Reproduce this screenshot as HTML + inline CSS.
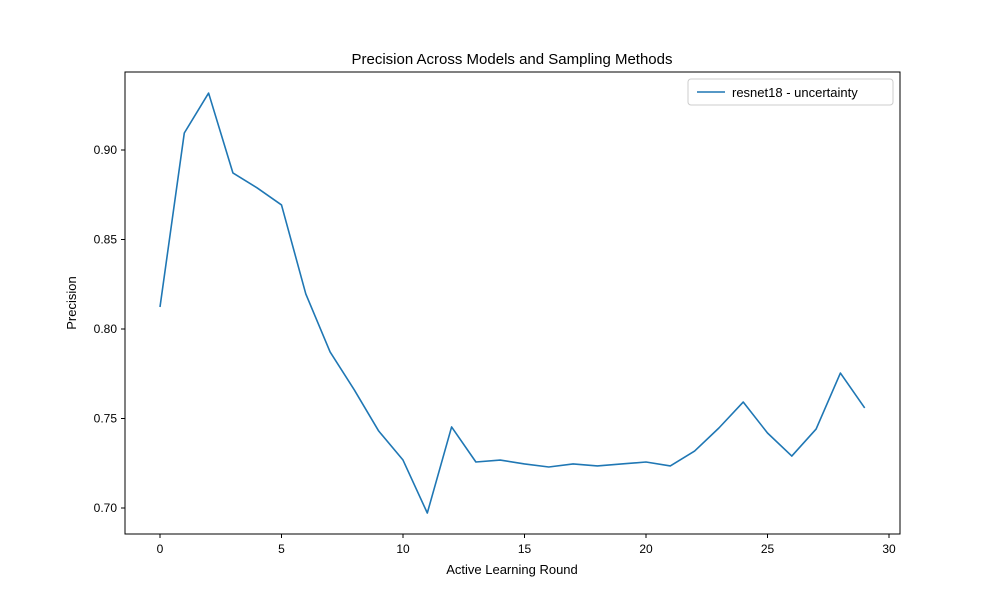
<!DOCTYPE html>
<html><head><meta charset="utf-8"><style>
body{margin:0;background:#fff;}
svg{display:block;font-family:"Liberation Sans","DejaVu Sans",sans-serif;}
</style></head><body>
<svg id="chart" width="1000" height="600">
<rect x="0" y="0" width="1000" height="600" fill="#fff"/>
<text x="512" y="64" text-anchor="middle" font-size="15">Precision Across Models and Sampling Methods</text>
<text x="512" y="574" text-anchor="middle" font-size="13">Active Learning Round</text>
<text transform="translate(76,303) rotate(-90)" text-anchor="middle" font-size="13">Precision</text>
<g id="ticks"></g>
<polyline id="line" fill="none" stroke="#1f77b4" stroke-width="1.6" stroke-linejoin="round"/>
<rect x="125" y="72" width="775" height="462" fill="none" stroke="#000" stroke-width="1"/>
<g>
<rect x="688" y="79" width="205" height="26" rx="3" fill="#fff" stroke="#ccc"/>
<line x1="697" y1="92" x2="725" y2="92" stroke="#1f77b4" stroke-width="1.6"/>
<text x="732" y="97" font-size="13">resnet18 - uncertainty</text>
</g>
</svg>
<script>
const rounds=[0,1,2,3,4,5,6,7,8,9,10,11,12,13,14,15,16,17,18,19,20,21,22,23,24,25,26,27,28,29];
const precision=[0.8123,0.9095,0.9318,0.8872,0.8788,0.8693,0.8196,0.7872,0.7659,0.743,0.7268,0.6972,0.7453,0.7257,0.7268,0.7246,0.7229,0.7246,0.7235,0.7246,0.7257,0.7235,0.7318,0.7447,0.7592,0.7419,0.729,0.7441,0.7754,0.7559];
const xTicks=[0,5,10,15,20,25,30];
const yTicks=[0.70,0.75,0.80,0.85,0.90];
const xs=v=>160+v*(889-160)/30;
const ys=v=>508-(v-0.70)*1790;
const NS="http://www.w3.org/2000/svg";
const g=document.getElementById('ticks');
xTicks.forEach(t=>{
  const l=document.createElementNS(NS,'line');
  l.setAttribute('x1',xs(t));l.setAttribute('x2',xs(t));l.setAttribute('y1',534);l.setAttribute('y2',538);l.setAttribute('stroke','#000');
  
  
  g.appendChild(l);
  const tx=document.createElementNS(NS,'text');
  tx.setAttribute('x',xs(t));tx.setAttribute('y',553);tx.setAttribute('text-anchor','middle');tx.setAttribute('font-size','12');
  tx.textContent=t;
  
  
  g.appendChild(tx);
});
yTicks.forEach(t=>{
  const l=document.createElementNS(NS,'line');
  l.setAttribute('x1',121);l.setAttribute('x2',125);l.setAttribute('y1',ys(t));l.setAttribute('y2',ys(t));l.setAttribute('stroke','#000');
  
  
  g.appendChild(l);
  const tx=document.createElementNS(NS,'text');
  tx.setAttribute('x',117);tx.setAttribute('y',ys(t)+4);tx.setAttribute('text-anchor','end');tx.setAttribute('font-size','12');
  tx.textContent=t.toFixed(2);
  
  
  g.appendChild(tx);
});
document.getElementById('line').setAttribute('points',rounds.map((r,i)=>xs(r)+','+ys(precision[i])).join(' '));
</script>
</body></html>
